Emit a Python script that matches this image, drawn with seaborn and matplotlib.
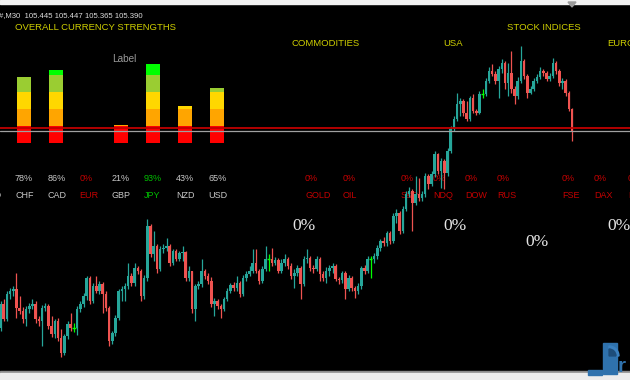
import numpy as np
import matplotlib
matplotlib.use("Agg")
import matplotlib.pyplot as plt
import seaborn as sns
from matplotlib.patches import Rectangle, Polygon, Wedge

# ---------------- data ----------------
first_open = 104.898
closes = [
    104.958, 104.920, 104.983, 104.990, 104.995, 104.948, 104.940, 104.920, 104.945, 104.953,
    104.958, 104.920, 104.915, 104.948, 104.953, 104.903, 104.883, 104.915, 104.873, 104.835,
    104.878, 104.908, 104.898, 104.898, 104.945, 104.958, 104.978, 105.023, 104.965, 105.003,
    104.990, 105.008, 104.983, 104.948, 104.865, 104.885, 104.923, 104.990, 104.995, 105.003,
    105.028, 105.010, 105.048, 105.040, 104.978, 105.023, 105.153, 105.083, 105.103, 105.045,
    105.095, 105.098, 105.103, 105.060, 105.090, 105.070, 105.085, 105.088, 105.023, 105.040,
    104.945, 105.003, 105.008, 105.040, 105.028, 105.015, 104.958, 104.965, 104.953, 104.945,
    104.970, 104.990, 105.005, 104.998, 105.010, 104.983, 105.023, 105.033, 105.040, 105.060,
    105.040, 105.015, 105.045, 105.070, 105.070, 105.060, 105.068, 105.040, 105.060, 105.070,
    105.053, 105.028, 105.035, 105.048, 105.008, 105.070, 105.073, 105.048, 105.045, 105.070,
    105.033, 105.023, 105.040, 105.048, 105.053, 105.020, 105.018, 105.035, 104.995, 105.023,
    104.998, 104.990, 105.003, 105.048, 105.040, 105.070, 105.070, 105.078, 105.098, 105.115,
    105.110, 105.135, 105.115, 105.178, 105.185, 105.140, 105.195, 105.233, 105.240, 105.210,
    105.233, 105.223, 105.233, 105.278, 105.258, 105.283, 105.333, 105.290, 105.315, 105.285,
    105.340, 105.395, 105.420, 105.458, 105.465, 105.435, 105.420, 105.473, 105.440, 105.435,
    105.483, 105.483, 105.515, 105.540, 105.533, 105.515, 105.545, 105.560, 105.510, 105.535,
    105.495, 105.478, 105.515, 105.565, 105.528, 105.485, 105.495, 105.515, 105.525, 105.540,
    105.535, 105.520, 105.528, 105.560, 105.540, 105.510, 105.515, 105.485, 105.445, 105.390,
]
highs = [
    104.965, 104.970, 104.990, 104.998, 105.003, 105.035, 104.978, 104.950, 104.953, 104.960,
    104.970, 104.965, 104.928, 104.955, 104.960, 104.958, 104.928, 104.920, 104.923, 104.895,
    104.883, 104.915, 104.935, 104.910, 104.953, 104.965, 104.985, 105.028, 105.028, 105.010,
    105.028, 105.015, 105.013, 104.990, 104.953, 104.890, 104.930, 104.995, 105.003, 105.010,
    105.060, 105.035, 105.060, 105.053, 105.045, 105.030, 105.170, 105.158, 105.140, 105.108,
    105.103, 105.108, 105.123, 105.108, 105.095, 105.095, 105.090, 105.103, 105.090, 105.053,
    105.040, 105.008, 105.015, 105.070, 105.045, 105.035, 105.025, 104.973, 104.970, 104.958,
    104.975, 104.998, 105.010, 105.013, 105.028, 105.015, 105.030, 105.040, 105.053, 105.095,
    105.095, 105.045, 105.053, 105.103, 105.083, 105.098, 105.075, 105.073, 105.070, 105.083,
    105.075, 105.060, 105.045, 105.055, 105.053, 105.078, 105.095, 105.078, 105.055, 105.078,
    105.075, 105.040, 105.050, 105.055, 105.060, 105.058, 105.025, 105.040, 105.040, 105.030,
    105.028, 105.003, 105.010, 105.053, 105.055, 105.078, 105.078, 105.085, 105.105, 105.120,
    105.125, 105.140, 105.140, 105.185, 105.195, 105.190, 105.203, 105.240, 105.250, 105.245,
    105.278, 105.273, 105.240, 105.285, 105.283, 105.290, 105.340, 105.335, 105.323, 105.320,
    105.348, 105.403, 105.428, 105.485, 105.473, 105.470, 105.465, 105.478, 105.483, 105.445,
    105.490, 105.495, 105.523, 105.550, 105.558, 105.540, 105.553, 105.570, 105.565, 105.560,
    105.590, 105.503, 105.525, 105.603, 105.570, 105.533, 105.503, 105.523, 105.533, 105.550,
    105.545, 105.540, 105.535, 105.573, 105.565, 105.545, 105.523, 105.520, 105.490, 105.447,
]
lows = [
    104.890, 104.915, 104.915, 104.970, 104.978, 104.923, 104.933, 104.910, 104.903, 104.935,
    104.945, 104.910, 104.903, 104.853, 104.940, 104.895, 104.875, 104.873, 104.865, 104.825,
    104.830, 104.870, 104.890, 104.888, 104.880, 104.938, 104.950, 104.968, 104.958, 104.960,
    104.985, 104.983, 104.935, 104.940, 104.853, 104.858, 104.878, 104.918, 104.965, 104.965,
    104.995, 105.003, 105.003, 105.033, 104.965, 104.970, 105.015, 105.075, 105.065, 105.035,
    105.040, 105.085, 105.090, 105.053, 105.055, 105.065, 105.065, 105.065, 105.015, 105.015,
    104.935, 104.915, 104.995, 105.000, 105.020, 105.008, 104.950, 104.928, 104.945, 104.923,
    104.940, 104.965, 104.985, 104.990, 104.990, 104.975, 104.978, 105.015, 105.028, 105.035,
    105.035, 105.008, 105.010, 105.040, 105.040, 105.053, 105.055, 105.035, 105.035, 105.053,
    105.045, 105.020, 104.998, 105.028, 104.970, 105.003, 105.060, 105.040, 105.035, 105.040,
    105.015, 105.015, 105.010, 105.028, 105.035, 105.015, 105.008, 105.010, 104.970, 104.990,
    104.990, 104.973, 104.983, 104.995, 105.033, 105.035, 105.023, 105.060, 105.070, 105.090,
    105.103, 105.103, 105.108, 105.110, 105.160, 105.133, 105.135, 105.190, 105.225, 105.140,
    105.205, 105.215, 105.215, 105.225, 105.245, 105.253, 105.275, 105.283, 105.248, 105.245,
    105.278, 105.335, 105.390, 105.415, 105.428, 105.428, 105.415, 105.415, 105.435, 105.430,
    105.433, 105.473, 105.478, 105.510, 105.528, 105.508, 105.473, 105.535, 105.495, 105.478,
    105.485, 105.458, 105.470, 105.510, 105.520, 105.473, 105.483, 105.490, 105.510, 105.520,
    105.528, 105.515, 105.515, 105.523, 105.533, 105.503, 105.495, 105.478, 105.440, 105.365,
]
bid_price = 105.390
ask_price = 105.398

cur_names = ["AUD", "CHF", "CAD", "EUR", "GBP", "JPY", "NZD", "USD"]
cur_pct = [57, 78, 86, 0, 21, 93, 43, 65]

idx_names = ["GOLD", "OIL", "S&P", "NDQ", "DOW", "RUS", "FSE", "DAX", "ESX"]
idx_pct = [0, 0, 0, 0, 0, 0, 0, 0, 0]

group_names = ["COMMODITIES", "USA", "STOCK INDICES", "EUROPE"]
group_pct = [0, 0, 0, 0]

# ---------------- style ----------------
sns.set_style("dark")
plt.rcParams["font.family"] = ["Liberation Sans", "DejaVu Sans"]

W, H = 630, 380
fig = plt.figure(figsize=(W / 100, H / 100), dpi=100)
fig.patch.set_facecolor("black")

# background / text layer (pixel coordinates)
bg = fig.add_axes([0, 0, 1, 1])
bg.set_xlim(0, W)
bg.set_ylim(H, 0)
bg.set_facecolor("black")
bg.axis("off")
bg.add_patch(Rectangle((0, 0), W, H, color="black", zorder=0))

YEL = "#cfcf00"
GREY = "#c8c8c8"
RED_T = "#c40000"
GRN_T = "#00c000"

ohlc = [closes[-2], highs[-1], lows[-1], closes[-1]]
bg.text(-1, 16, "#,M30  " + " ".join(f"{v:.3f}" for v in ohlc), color="#dcdcdc",
        fontsize=5.6, va="center", ha="left")
bg.text(15, 28, "OVERALL CURRENCY STRENGTHS", color=YEL, fontsize=6.8, va="center", ha="left")
bg.text(112, 59, "Label", color="#9a9a9a", fontsize=7.2, va="center", ha="left")

col_pitch = 32.2
for k, (n, p) in enumerate(zip(cur_names, cur_pct)):
    x = 15 + (k - 1) * col_pitch
    c = RED_T if p == 0 else (GRN_T if p >= 90 else GREY)
    bg.text(x, 178.5, f"{p}%", color=c, fontsize=6.5, va="center", ha="left")
    bg.text(x, 195.5, n, color=c, fontsize=6.5, va="center", ha="left")

idx_x = [305, 343, 401, 433, 465, 497, 562, 594, 628]
for x, n, p in zip(idx_x, idx_names, idx_pct):
    bg.text(x, 178.5, f"{p}%", color=RED_T, fontsize=6.5, va="center", ha="left")
    bg.text(x, 195.5, n, color=RED_T, fontsize=6.5, va="center", ha="left")

group_title_pos = [(292, 44), (443, 44), (507, 28), (607, 44)]
group_pct_pos = [(292, 226), (443, 226), (525, 242), (607, 226)]
for n, p, (tx, ty), (px, py) in zip(group_names, group_pct, group_title_pos, group_pct_pos):
    bg.text(tx, ty, n, color=YEL, fontsize=6.8, va="center", ha="left")
    bg.text(px, py, f"{p}%", color="#e4e4e4", fontsize=12.5, va="center", ha="left",
            family=["Liberation Serif", "DejaVu Serif"])

# strength bars (seaborn), stacked by 20% bands
axb = fig.add_axes([0, 0, 1, 1])
axb.set_facecolor("none")
band_cols = ["#ff0000", "#ffa500", "#ffd700", "#9acd32", "#00ff00"]
for lvl in range(5, 0, -1):
    hts = [min(p, 20 * lvl) for p in cur_pct]
    sns.barplot(x=cur_names, y=hts, order=cur_names, color=band_cols[lvl - 1],
                saturation=1, width=14 / col_pitch, errorbar=None, linewidth=0, ax=axb)
px_per_pct = 0.85
x_left = 1 - 24 / col_pitch
axb.set_xlim(x_left, x_left + W / col_pitch)
axb.set_ylim(-(H - 143) / px_per_pct, 143 / px_per_pct)
axb.axis("off")

# candlestick layer
ax = fig.add_axes([0, 0, 1, 1])
ax.set_facecolor("none")
c = np.array(closes)
o = np.array([first_open] + closes[:-1])
hi = np.array(highs)
lo = np.array(lows)
x = np.arange(len(c))
UP, DN, DOJI = "#26a69a", "#ef5350", "#00ff00"
cols = np.where(c > o, UP, np.where(c < o, DN, DOJI))
ax.vlines(x, lo, hi, colors=cols, linewidth=0.9, zorder=2)
ax.bar(x, np.abs(c - o), bottom=np.minimum(o, c), width=0.8, color=cols, linewidth=0, zorder=3)
dj = c == o
ax.hlines(c[dj], x[dj] - 0.5, x[dj] + 0.5, colors=DOJI, linewidth=1, zorder=3)

ax.axhline(ask_price, color="#c00000", linewidth=1.3, zorder=4)
ax.axhline(bid_price, color="#a0a0a0", linewidth=0.9, zorder=4)

pitch = 3.193
ppp = 0.0025  # price per pixel
ax.set_xlim(-0.5 / pitch, -0.5 / pitch + W / pitch)
ax.set_ylim(bid_price - (H - 131) * ppp, bid_price + 131 * ppp)
ax.axis("off")

# window chrome / watermark
top = fig.add_axes([0, 0, 1, 1])
top.set_xlim(0, W)
top.set_ylim(H, 0)
top.set_facecolor("none")
top.axis("off")
top.add_patch(Rectangle((0, 0), W, 4, color="#f2f2f2"))
top.add_patch(Rectangle((0, 371), W, 2, color="#8c8c8c"))
top.add_patch(Rectangle((0, 373), W, 7, color="#ececec"))
top.add_patch(Polygon([(568, 2), (576, 2), (572, 7)], closed=True, color="#9a9a9a"))
top.add_patch(Rectangle((588, 370), 14, 5, color="#2f72ad"))
top.add_patch(Rectangle((603, 343), 14, 31, color="#2f72ad"))
top.add_patch(Wedge((609, 356), 10, 270, 360, color="#3a80bf"))
top.add_patch(Wedge((609, 356), 7, 270, 360, color="#1d4d7a"))
top.text(618, 366, "r", color="#2f72ad", fontsize=15, fontweight="bold", va="center", ha="left")

fig.savefig("out.png", dpi=100, facecolor="black")
